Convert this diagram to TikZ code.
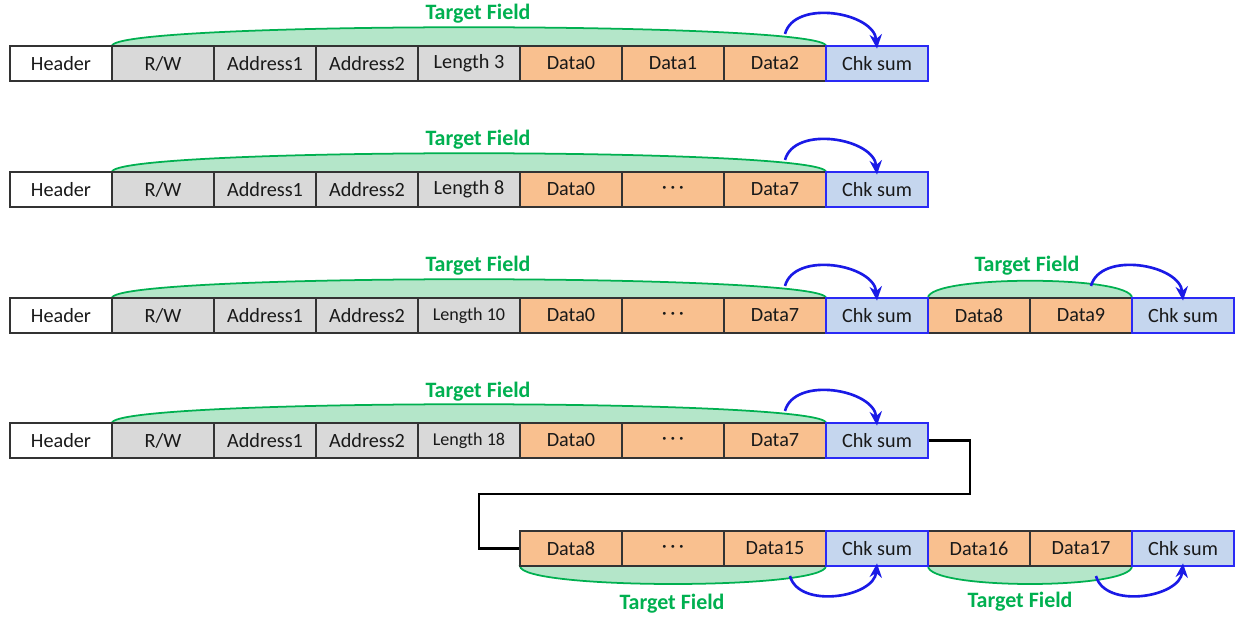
\documentclass[tikz,border=0pt]{standalone}
\usepackage{fontspec}
\setmainfont{Carlito}
\usetikzlibrary{arrows.meta}

\definecolor{cellgray}{HTML}{D9D9D9}
\definecolor{cellorange}{HTML}{F9C08F}
\definecolor{cellblue}{HTML}{C5D6EE}
\definecolor{chkline}{HTML}{2A2AF5}
\definecolor{tfgreen}{HTML}{00B050}
\definecolor{tffill}{HTML}{B4E6C9}
\definecolor{arrowblue}{HTML}{1A1AE6}

\tikzset{
  cell/.style={rectangle, draw=black!80, line width=1.1pt, minimum width=2.04cm,
    minimum height=0.7cm, inner sep=0pt, text=black!90, font=\fontsize{11.5}{13}\selectfont},
  hd/.style={cell, fill=white},
  gry/.style={cell, fill=cellgray},
  org/.style={cell, fill=cellorange},
  chk/.style={cell, fill=cellblue, draw=chkline},
  tf/.style={draw=tfgreen, fill=tffill, line width=1pt},
  tflabel/.style={text=tfgreen, font=\fontsize{12.5}{14}\selectfont\bfseries},
  ckarrow/.style={draw=arrowblue, line width=1.5pt, -{Stealth[length=8pt,width=7pt]}},
  link/.style={draw=black, line width=1.6pt}
}

\newcommand{\dotcell}{\textperiodcentered\,\textperiodcentered\,\textperiodcentered}

\begin{document}
\begin{tikzpicture}[x=0.02cm, y=-0.02cm]

      \useasboundingbox (0,0) rectangle (1238,617);

      % target field shapes first, cells go on top
      \coordinate (p1) at (112,46);  \coordinate (q1) at (826,46);
      \coordinate (p2) at (112,172); \coordinate (q2) at (826,172);
      \coordinate (p3) at (112,298); \coordinate (q3) at (826,298);
      \coordinate (p4) at (928,298); \coordinate (q4) at (1132,298);
      \coordinate (p5) at (112,423); \coordinate (q5) at (826,423);
      \coordinate (p6) at (520,566); \coordinate (q6) at (826,566);
      \coordinate (p7) at (928,566); \coordinate (q7) at (1132,566);

      \path[tf] (p1) .. controls +(0,-25) and +(0,-25) .. (q1) -- cycle;
      \path[tf] (p2) .. controls +(0,-25) and +(0,-25) .. (q2) -- cycle;
      \path[tf] (p3) .. controls +(0,-25) and +(0,-25) .. (q3) -- cycle;
      \path[tf] (p4) .. controls +(0,-23) and +(0,-23) .. (q4) -- cycle;
      \path[tf] (p5) .. controls +(0,-25) and +(0,-25) .. (q5) -- cycle;
      \path[tf] (p6) .. controls +(0,24) and +(0,24) .. (q6) -- cycle;
      \path[tf] (p7) .. controls +(0,24) and +(0,24) .. (q7) -- cycle;

      \node[tflabel] (t1) at (478,14)  {Target Field};
      \node[tflabel] (t2) at (478,140) {Target Field};
      \node[tflabel] (t3) at (478,266) {Target Field};
      \node[tflabel] (t4) at (1027,266) {Target Field};
      \node[tflabel] (t5) at (478,392) {Target Field};
      \node[tflabel] (t6) at (672,604) {Target Field};
      \node[tflabel] (t7) at (1020,602) {Target Field};

      % row 1
      \node[hd]  (a1) at (61,63.5)  {Header};
      \node[gry] (a2) at (163,63.5) {R/W};
      \node[gry] (a3) at (265,63.5) {Address1};
      \node[gry] (a4) at (367,63.5) {Address2};
      \node[gry] (a5) at (469,63.5) {Length 3};
      \node[org] (a6) at (571,63.5) {Data0};
      \node[org] (a7) at (673,63.5) {Data1};
      \node[org] (a8) at (775,63.5) {Data2};
      \node[chk] (a9) at (877,63.5) {Chk sum};

      % row 2
      \node[hd]  (b1) at (61,189.5)  {Header};
      \node[gry] (b2) at (163,189.5) {R/W};
      \node[gry] (b3) at (265,189.5) {Address1};
      \node[gry] (b4) at (367,189.5) {Address2};
      \node[gry] (b5) at (469,189.5) {Length 8};
      \node[org] (b6) at (571,189.5) {Data0};
      \node[org] (b7) at (673,189.5) {\dotcell};
      \node[org] (b8) at (775,189.5) {Data7};
      \node[chk] (b9) at (877,189.5) {Chk sum};

      % row 3
      \node[hd]  (c1)  at (61,315.5)   {Header};
      \node[gry] (c2)  at (163,315.5)  {R/W};
      \node[gry] (c3)  at (265,315.5)  {Address1};
      \node[gry] (c4)  at (367,315.5)  {Address2};
      \node[gry, font=\fontsize{10.3}{12}\selectfont] (c5) at (469,315.5) {Length 10};
      \node[org] (c6)  at (571,315.5)  {Data0};
      \node[org] (c7)  at (673,315.5)  {\dotcell};
      \node[org] (c8)  at (775,315.5)  {Data7};
      \node[org] (c10) at (979,315.5)  {Data8};
      \node[org] (c11) at (1081,315.5) {Data9};
      \node[chk] (c9)  at (877,315.5)  {Chk sum};
      \node[chk] (c12) at (1183,315.5) {Chk sum};

      % row 4
      \node[hd]  (d1) at (61,440.5)  {Header};
      \node[gry] (d2) at (163,440.5) {R/W};
      \node[gry] (d3) at (265,440.5) {Address1};
      \node[gry] (d4) at (367,440.5) {Address2};
      \node[gry, font=\fontsize{10.3}{12}\selectfont] (d5) at (469,440.5) {Length 18};
      \node[org] (d6) at (571,440.5) {Data0};
      \node[org] (d7) at (673,440.5) {\dotcell};
      \node[org] (d8) at (775,440.5) {Data7};
      \node[chk] (d9) at (877,440.5) {Chk sum};

      % row 5
      \node[org] (e1) at (571,548.5)  {Data8};
      \node[org] (e2) at (673,548.5)  {\dotcell};
      \node[org] (e3) at (775,548.5)  {Data15};
      \node[org] (e5) at (979,548.5)  {Data16};
      \node[org] (e6) at (1081,548.5) {Data17};
      \node[chk] (e4) at (877,548.5)  {Chk sum};
      \node[chk] (e7) at (1183,548.5) {Chk sum};

      % row 4 runs on into row 5
      \coordinate (k1) at (970,494);
      \coordinate (k2) at (479,494);
      \draw[link] (d9.east) -| (k1) -- (k2) |- (e1.west);

      % checksum arrows
      \coordinate (s1) at (785,34);
      \coordinate (s2) at (785,160);
      \coordinate (s3) at (785,286);
      \coordinate (s4) at (1091,286);
      \coordinate (s5) at (785,411);
      \coordinate (s6) at (790,576);
      \coordinate (s7) at (1096,576);

      \draw[ckarrow] (s1) to[out=75,in=95] ([yshift=-2]a9.north);
      \draw[ckarrow] (s2) to[out=75,in=95] ([yshift=-2]b9.north);
      \draw[ckarrow] (s3) to[out=75,in=95] ([yshift=-2]c9.north);
      \draw[ckarrow] (s4) to[out=75,in=95] ([yshift=-2]c12.north);
      \draw[ckarrow] (s5) to[out=75,in=95] ([yshift=-2]d9.north);
      \draw[ckarrow] (s6) to[out=-75,in=-95] ([yshift=2]e4.south);
      \draw[ckarrow] (s7) to[out=-75,in=-95] ([yshift=2]e7.south);

    \end{tikzpicture}
\end{document}
